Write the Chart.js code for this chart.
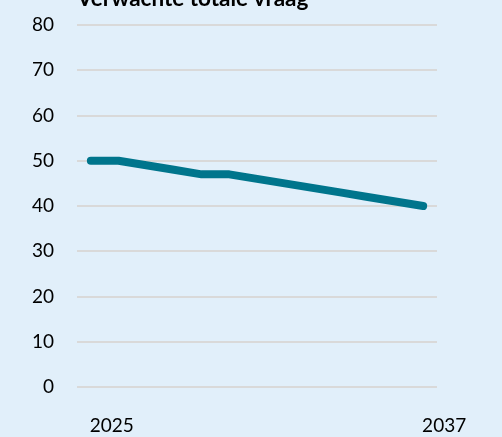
<!DOCTYPE html>
<html><head><meta charset="utf-8">
<script src="https://cdn.jsdelivr.net/npm/chart.js@4/dist/chart.umd.min.js"></script>
<style>
html,body{margin:0;padding:0;background:#E1EFFA;}
#wrap{width:502px;height:437px;position:relative;}
</style></head>
<body><div id="wrap"><canvas id="c" width="502" height="437"></canvas></div>
<script>
const years = ['2025','2026','2027','2028','2029','2030','2031','2032','2033','2034','2035','2036','2037'];
const demand = [50,50,49,48,47,47,46,45,44,43,42,41,40];
const shownYears = ['2025','2037'];
const chartTitle = 'Verwachte totale vraag';

const font = "Lato, 'Open Sans', sans-serif";
new Chart(document.getElementById('c'), {
  type: 'line',
  data: {
    labels: years,
    datasets: [{
      data: demand,
      borderColor: '#00758C',
      borderWidth: 8,
      borderCapStyle: 'round',
      borderJoinStyle: 'round',
      pointRadius: 0,
      tension: 0,
      fill: false
    }]
  },
  options: {
    responsive: false,
    animation: false,
    layout: { padding: { left: 0, right: 65, top: 0, bottom: 0 } },
    plugins: {
      legend: { display: false },
      tooltip: { enabled: false },
      title: {
        display: true,
        text: chartTitle,
        align: 'start',
        fullSize: false,
        color: '#000',
        font: { family: font, size: 22.5, weight: 'bold', lineHeight: 1.2 },
        padding: { top: -14.5, bottom: 12.5 }
      }
    },
    scales: {
      x: {
        offset: true,
        grid: { display: false, drawTicks: false },
        border: { display: false },
        ticks: {
          autoSkip: false,
          maxRotation: 0,
          color: '#000',
          font: { family: font, size: 19 },
          padding: 27,
          labelOffset: 21,
          callback: function(v, i) { const l = years[i]; return shownYears.includes(l) ? l : ''; }
        },
        afterFit: s => { s.height = 50; s.paddingLeft = 0; s.paddingRight = 0; }
      },
      y: {
        min: 0, max: 80,
        grid: { color: '#D9D9D9', lineWidth: 2, drawTicks: false },
        border: { display: false },
        ticks: {
          stepSize: 10,
          color: '#000',
          font: { family: font, size: 19 },
          padding: 23
        },
        afterFit: s => { s.width = 77; s.paddingTop = 0; s.paddingBottom = 0; }
      }
    }
  }
});
</script></body></html>
